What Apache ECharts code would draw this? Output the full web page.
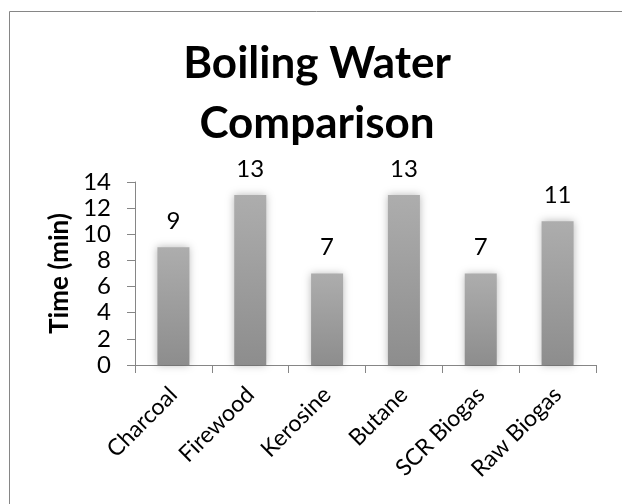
<!DOCTYPE html>
<html>
<head>
<meta charset="utf-8">
<script src="https://cdn.jsdelivr.net/npm/echarts@6/dist/echarts.min.js"></script>
<style>
  html, body { margin: 0; padding: 0; background: #fff; }
  #chart { width: 622px; height: 504px; }
</style>
</head>
<body>
<div id="chart"></div>
<script>
// Fuel types and minutes needed to boil water
const categories = ['Charcoal', 'Firewood', 'Kerosine', 'Butane', 'SCR Biogas', 'Raw Biogas'];
const boilTimes = [9, 13, 7, 13, 7, 11];
const yTicks = { min: 0, max: 14, interval: 2 };
const titleText = 'Boiling Water\nComparison';
const yAxisName = 'Time (min)';

const FONT = 'Lato, "Open Sans", sans-serif';

const chart = echarts.init(document.getElementById('chart'), null, { renderer: 'canvas' });

chart.setOption({
  backgroundColor: '#ffffff',
  animation: false,
  title: {
    text: titleText,
    left: 317,
    top: 34,
    padding: 0,
    textAlign: 'center',
    textStyle: {
      fontFamily: FONT,
      fontWeight: 'bold',
      fontSize: 44,
      lineHeight: 60,
      color: '#000'
    }
  },
  graphic: [{
    type: 'rect',
    silent: true,
    shape: { x: 9.5, y: 11.5, width: 700, height: 600 },
    style: { fill: null, stroke: '#868686', lineWidth: 1 }
  }],
  grid: { left: 135, right: 26, top: 182, bottom: 139, containLabel: false },
  xAxis: {
    type: 'category',
    data: categories,
    axisLine: { show: true, lineStyle: { color: '#868686', width: 1 } },
    axisTick: { show: true, alignWithLabel: false, length: 8, lineStyle: { color: '#868686' } },
    axisLabel: {
      rotate: 45,
      margin: 26,
      interval: 0,
      fontFamily: FONT,
      fontSize: 23,
      color: '#000'
    }
  },
  yAxis: {
    type: 'value',
    min: yTicks.min,
    max: yTicks.max,
    interval: yTicks.interval,
    name: yAxisName,
    nameLocation: 'middle',
    nameGap: 58,
    nameTextStyle: {
      fontFamily: FONT,
      fontWeight: 'bold',
      fontSize: 26,
      color: '#000'
    },
    axisLine: { show: true, lineStyle: { color: '#868686', width: 1 } },
    axisTick: { show: true, length: 8, lineStyle: { color: '#868686' } },
    splitLine: { show: false },
    axisLabel: {
      margin: 24,
      fontFamily: FONT,
      fontSize: 24,
      color: '#000'
    }
  },
  series: [{
    type: 'bar',
    data: boilTimes,
    barWidth: 32,
    itemStyle: {
      color: new echarts.graphic.LinearGradient(0, 0, 0, 1, [
        { offset: 0, color: '#adadad' },
        { offset: 1, color: '#8d8d8d' }
      ]),
      shadowBlur: 8,
      shadowColor: 'rgba(0,0,0,0.28)',
      shadowOffsetX: 0,
      shadowOffsetY: 0
    },
    label: {
      show: true,
      position: 'top',
      distance: 14,
      fontFamily: FONT,
      fontSize: 24,
      color: '#000'
    }
  }]
});
</script>
</body>
</html>
